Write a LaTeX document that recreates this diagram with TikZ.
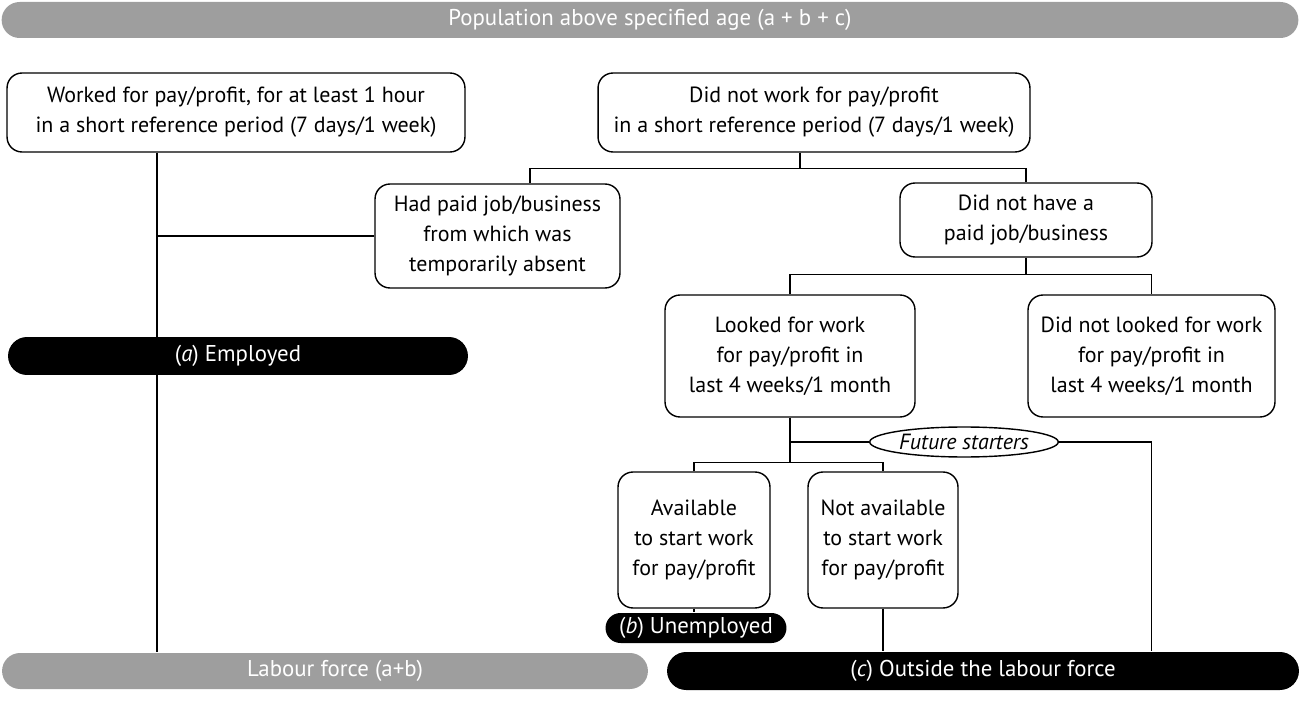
\documentclass[tikz,border=0pt]{standalone}
\usepackage{fontspec}
\setmainfont{PT Sans}
\usetikzlibrary{shapes.geometric}

\newcommand{\boxfont}{\fontsize{12.5}{17}\selectfont}
\newcommand{\barfont}{\fontsize{13}{17}\selectfont}

\begin{document}
\begin{tikzpicture}[
    x=0.02cm, y=-0.02cm,
    line width=0.8pt,
    box/.style={rectangle, draw, align=center, rounded corners=0.3cm, inner xsep=0.1cm, font=\boxfont},
    bar/.style={rectangle, rounded corners=0.36cm, minimum height=0.72cm, text=white, font=\barfont, inner sep=0pt},
    graybar/.style={bar, fill=black!38},
    blackbar/.style={bar, fill=black, minimum height=0.76cm, rounded corners=0.38cm},
    tag/.style={ellipse, draw, fill=white, inner sep=1pt, minimum height=0.6cm, font=\boxfont\itshape}
]
\useasboundingbox (0,0) rectangle (1301,719);

% top and bottom bars
\node[graybar, minimum width=25.94cm] (pop) at (650,20) {Population above specified age (a + b + c)};
\node[graybar, minimum width=12.92cm] (labour) at (325,671) {\hspace*{0.4cm}Labour force (a+b)};
\node[blackbar, minimum width=12.64cm] (outside) at (983,671) {(\textit{c}) Outside the labour force};

% boxes
\node[box, minimum width=9.16cm, minimum height=1.58cm] (worked) at (236,112.5) {Worked for pay/profit, for at least 1 hour\\in a short reference period (7 days/1 week)};
\node[box, minimum width=8.64cm, minimum height=1.58cm] (notwork) at (814,112.5) {Did not work for pay/profit\\in a short reference period (7 days/1 week)};
\node[box, minimum width=4.9cm, minimum height=2.08cm] (hadpaid) at (497.5,236) {Had paid job/business\\from which was\\temporarily absent};
\node[box, minimum width=5.04cm, minimum height=1.48cm] (nothave) at (1026,220) {Did not have a\\paid job/business};
\node[box, minimum width=5cm, minimum height=2.44cm] (looked) at (790,356) {Looked for work\\for pay/profit in\\last 4 weeks/1 month};
\node[box, minimum width=4.94cm, minimum height=2.44cm] (notlooked) at (1151.5,356) {Did not looked for work\\for pay/profit in\\last 4 weeks/1 month};
\node[tag, minimum width=3.64cm] (future) at (964,442) {Future starters};
\node[box, minimum width=3.04cm, minimum height=2.72cm] (avail) at (694,540) {Available\\to start work\\for pay/profit};
\node[box, minimum width=3cm, minimum height=2.72cm] (notavail) at (883,540) {Not available\\to start work\\for pay/profit};
\node[blackbar, minimum width=3.62cm, minimum height=0.6cm, rounded corners=0.3cm] (unemp) at (696,628) {(\textit{b}) Unemployed};

% connectors
\coordinate (trunk) at ([xshift=-1.58cm]worked.south);
\draw (trunk) -- (trunk |- labour.north);
\draw (hadpaid.west) -- (hadpaid.west -| trunk);
\node[blackbar, minimum width=9.2cm] (employed) at (238,356) {(\textit{a}) Employed};

\coordinate (nwtick) at ([xshift=-0.28cm]notwork.south);
\coordinate (split1) at ([yshift=-0.32cm]nwtick);
\coordinate (hptick) at ([xshift=0.65cm]hadpaid.north);
\draw (nwtick) -- (split1);
\draw (hptick) |- (split1) -| (nothave.north);

\coordinate (split2) at ([yshift=-0.34cm]nothave.south);
\draw (nothave.south) -- (split2);
\draw (looked.north) |- (split2) -| (notlooked.north);

\coordinate (split3) at ([yshift=-0.9cm]looked.south);
\draw (looked.south) -- (split3);
\draw (avail.north) |- (split3) -| (notavail.north);
\draw (future.west -| looked.south) -- (future.west);
\draw (future.east) -| (notlooked.south |- outside.north);

\draw (avail.south) -- (avail.south |- unemp.north);
\draw (notavail.south) -- (notavail.south |- outside.north);
\end{tikzpicture}
\end{document}
